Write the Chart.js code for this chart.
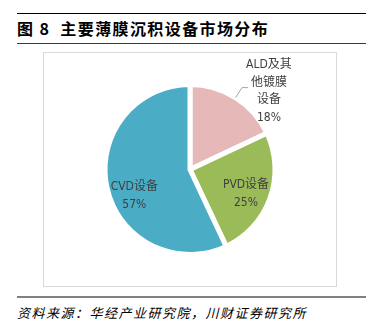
<!DOCTYPE html>
<html>
<head>
<meta charset="utf-8">
<script src="https://cdn.jsdelivr.net/npm/chart.js@4.4.1/dist/chart.umd.min.js"></script>
<style>
  html, body { margin: 0; padding: 0; background: #fff; }
  body { width: 378px; height: 330px; position: relative; overflow: hidden;
         font-family: "Noto Sans CJK SC", "Noto Sans", sans-serif; }
  .rule { position: absolute; left: 17px; width: 349px; }
  #top-rule { top: 13px; height: 1px; background: #000; }
  #red-rule { top: 43px; height: 1px; background: #c00000; }
  #grey-rule { top: 296px; height: 2px; background: #808080; }
  #titulo { position: absolute; left: 17px; top: 17px; font-size: 16px; font-weight: bold;
            letter-spacing: 1.4px; color: #000; line-height: 22px; white-space: pre; }
  #fonte { position: absolute; left: 17px; top: 303px; font-size: 13px; font-style: italic;
           letter-spacing: 1.5px; color: #000; line-height: 20px; white-space: pre; }
  #quadro { position: absolute; left: 43px; top: 52px; width: 292px; height: 233px;
            border: 1px solid #d9d9d9; }
  #quadro canvas { display: block; }
</style>
</head>
<body>
<div id="top-rule" class="rule"></div>
<div id="titulo">图 8  主要薄膜沉积设备市场分布</div>
<div id="red-rule" class="rule"></div>
<div id="quadro"><canvas id="grafico-pizza" width="292" height="233"></canvas></div>
<div id="grey-rule" class="rule"></div>
<div id="fonte">资料来源：华经产业研究院，川财证券研究所</div>

<script>
// fatias, na ordem em que sao desenhadas (a partir do topo, sentido horario)
const categorias = ["ALD及其他镀膜设备", "PVD设备", "CVD设备"];
const rotulos = [["ALD及其", "他镀膜", "设备"], ["PVD设备"], ["CVD设备"]];
const participacao = [18, 25, 57];
const cores = ["#e6b9b8", "#9bbb59", "#4bacc6"];

/* ======================================================
   ROTULOS DAS FATIAS (dentro ou fora com linha guia)
   ====================================================== */
const pluginRotulos = {
    id: "rotulosFatias",
    afterDatasetsDraw(chart, args, opts) {
        const ctx = chart.ctx;
        const meta = chart.getDatasetMeta(0);
        const lh = 17.5;

        ctx.save();
        ctx.font = '12px "DejaVu Sans Condensed", "Noto Sans CJK SC", sans-serif';
        ctx.fillStyle = "#404040";
        ctx.textAlign = "center";
        ctx.textBaseline = "middle";

        meta.data.forEach((arc, i) => {
            const p = arc.getProps(["x", "y", "startAngle", "endAngle", "outerRadius"], true);
            const meio = (p.startAngle + p.endAngle) / 2;
            const cfg = opts.posicoes[i] || {};
            const linhas = rotulos[i].concat([participacao[i] + "%"]);
            let cx, cy;

            if (cfg.fora) {
                const x0 = p.x + Math.cos(meio) * p.outerRadius;
                const y0 = p.y + Math.sin(meio) * p.outerRadius;
                const x1 = p.x + Math.cos(meio) * (p.outerRadius + 12);
                const y1 = p.y + Math.sin(meio) * (p.outerRadius + 12);
                ctx.strokeStyle = "#a6a6a6";
                ctx.lineWidth = 1;
                ctx.beginPath();
                ctx.moveTo(x0, y0);
                ctx.lineTo(x1, y1);
                ctx.lineTo(x1 + 6, y1);
                ctx.stroke();
                cx = x1 + 27;
                cy = y1 + 4;
            } else {
                const r = p.outerRadius * (cfg.frac || 0.7);
                cx = p.x + Math.cos(meio) * r + (cfg.dx || 0);
                cy = p.y + Math.sin(meio) * r + (cfg.dy || 0);
            }

            const y0 = cy - (linhas.length - 1) * lh / 2;
            linhas.forEach((t, k) => ctx.fillText(t, cx, y0 + k * lh));
        });
        ctx.restore();
    }
};

new Chart(document.getElementById("grafico-pizza"), {
    type: "pie",
    data: {
        labels: categorias,
        datasets: [{
            data: participacao,
            backgroundColor: cores,
            borderColor: "#ffffff",
            borderWidth: 5,
            borderAlign: "center"
        }]
    },
    options: {
        responsive: false,
        animation: false,
        layout: { padding: { top: 29, bottom: 29, left: 10, right: 10 } },
        plugins: {
            legend: { display: false },
            tooltip: { enabled: false },
            rotulosFatias: {
                posicoes: [
                    { fora: true },
                    { frac: 0.7, dy: 4 },
                    { frac: 0.72, dy: 13, dx: 4 }
                ]
            }
        }
    },
    plugins: [pluginRotulos]
});
</script>
</body>
</html>
